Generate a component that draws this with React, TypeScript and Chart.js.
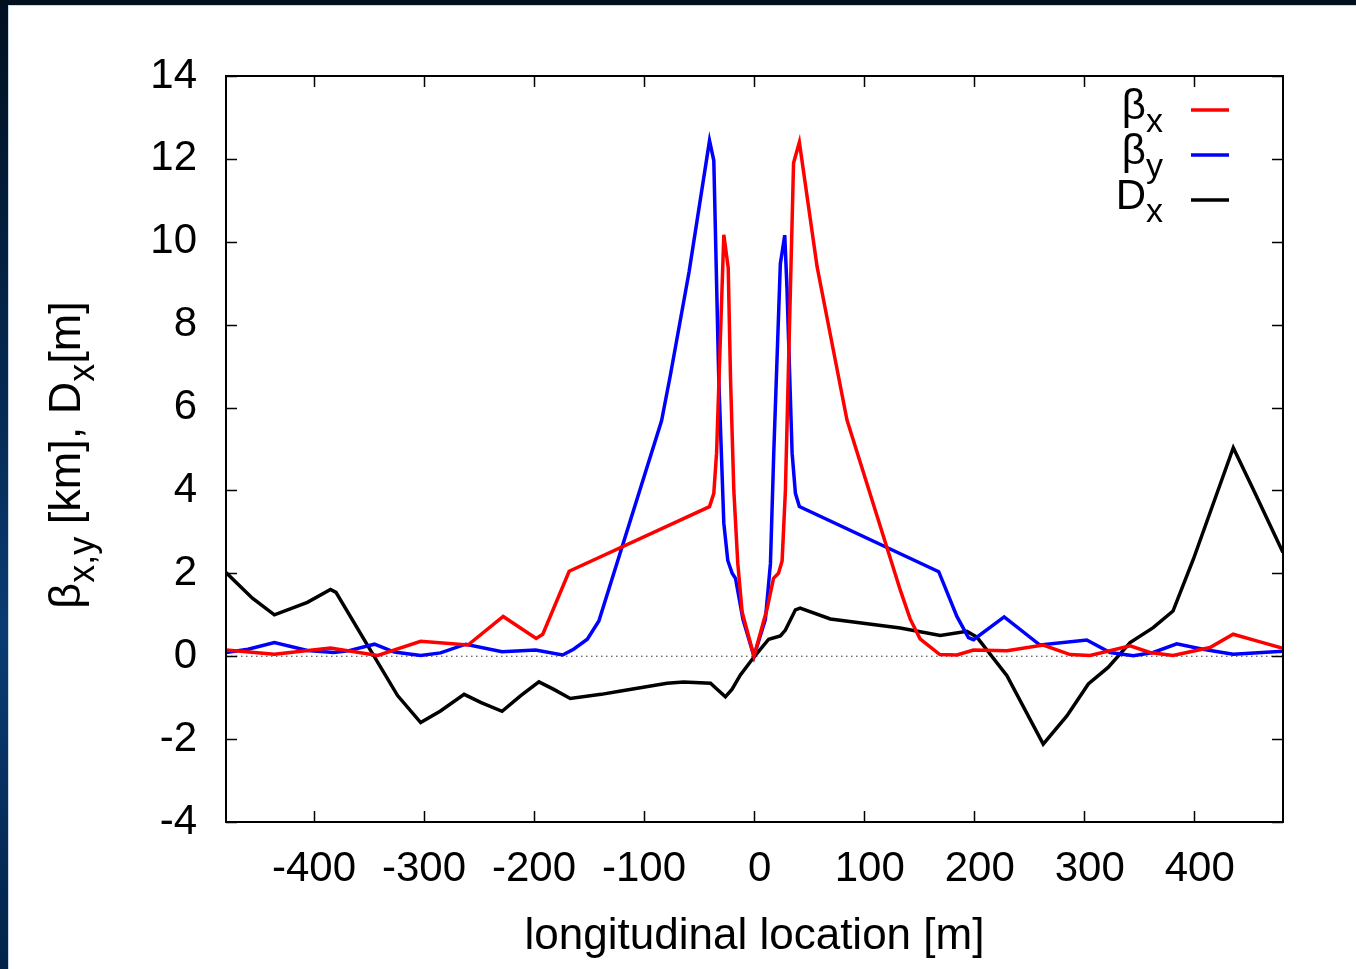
import React, { useEffect, useRef } from 'react';
import { Chart, registerables } from 'chart.js';

Chart.register(...registerables);

// ---- data (longitudinal location [m] / value) ----
const betaXPos = [-480, -436, -385, -342, -303, -260, -228, -198, -192, -168, -40.4, -36.5, -34, -27.4, -23.4, -21.3, -18.3, -14.7, -10.7, 0, 12, 17.8, 22.3, 25.6, 28.6, 36, 41.3, 57.4, 69.5, 84.6, 133, 142, 151, 169, 184.6, 199.6, 230, 263, 287.5, 305.6, 342, 360, 381, 414.6, 435.7, 457, 481];
const betaXVal = [0.15, 0.05, 0.2, 0.02, 0.36, 0.27, 0.96, 0.43, 0.53, 2.05, 3.61, 3.93, 4.9, 10.17, 9.37, 6.7, 4.0, 2.24, 1.06, 0, 1.15, 1.88, 2.0, 2.3, 4.0, 11.9, 12.4, 9.4, 7.75, 5.7, 1.6, 0.9, 0.42, 0.04, 0.03, 0.15, 0.13, 0.27, 0.04, 0.02, 0.25, 0.09, 0.02, 0.21, 0.53, 0.37, 0.19];

const betaYPos = [-480, -460, -436, -406, -382, -369, -345, -327, -303, -285, -262, -229, -198.5, -174, -164, -151.5, -141, -84, -76, -59, -40.4, -36.5, -32, -27.4, -23.8, -19.8, -16.8, -10, 0, 10.4, 15, 18, 24, 28, 30, 34.7, 37.7, 41.3, 168, 184.5, 195, 199.6, 227.5, 260, 302.6, 323.8, 345, 363, 384.4, 408, 435.7, 481];
const betaYVal = [0.09, 0.17, 0.33, 0.14, 0.09, 0.13, 0.29, 0.1, 0.02, 0.08, 0.29, 0.11, 0.15, 0.03, 0.17, 0.41, 0.85, 5.68, 6.78, 9.27, 12.44, 11.96, 6.7, 3.21, 2.31, 2.0, 1.88, 0.89, 0, 0.89, 2.24, 4.9, 9.47, 10.16, 8.9, 4.9, 3.93, 3.61, 2.04, 0.96, 0.45, 0.4, 0.95, 0.27, 0.39, 0.09, 0.01, 0.09, 0.3, 0.17, 0.05, 0.12];

const dispXPos = [-480, -456, -436, -406, -385, -380, -351, -324, -303, -285, -263.5, -248, -229, -212, -195.5, -182, -167, -139, -121, -79, -64, -39.5, -35, -26, -20, -12.3, 0, 13.4, 24, 28.6, 37.7, 42, 69.5, 133, 169.4, 193.6, 202.7, 230, 263, 284.5, 304, 322, 342, 363, 381, 399.5, 435.8, 454, 481];
const dispXVal = [2.02, 1.4, 1.0, 1.3, 1.61, 1.54, 0.25, -0.95, -1.6, -1.32, -0.92, -1.12, -1.33, -0.95, -0.62, -0.8, -1.02, -0.92, -0.84, -0.65, -0.62, -0.65, -0.76, -0.98, -0.8, -0.45, -0.02, 0.41, 0.49, 0.63, 1.12, 1.16, 0.9, 0.68, 0.5, 0.6, 0.46, -0.47, -2.12, -1.44, -0.67, -0.27, 0.33, 0.69, 1.09, 2.34, 5.03, 4.02, 2.5];

const xTickValues = [-400, -300, -200, -100, 0, 100, 200, 300, 400];
const yTickValues = [-4, -2, 0, 2, 4, 6, 8, 10, 12, 14];

const legendMain = ['β', 'β', 'D'];
const legendSub = ['x', 'y', 'x'];
const seriesColors = ['#ff0000', '#0000ff', '#000000'];

const xTitle = 'longitudinal location [m]';
const yTitleParts: [string, boolean][] = [
  ['β', false],
  ['x,y', true],
  [' [km], D', false],
  ['x', true],
  ['[m]', false],
];

const FONT = '"Liberation Sans", Arial, Helvetica, sans-serif';

const toPoints = (xs: number[], ys: number[]) => xs.map((x, i) => ({ x, y: ys[i] }));

const decorPlugin = {
  id: 'decor',
  beforeDatasetsDraw(chart: any) {
    const { ctx, chartArea, scales } = chart;
    const y0 = scales.y.getPixelForValue(0);
    ctx.save();
    ctx.strokeStyle = '#333';
    ctx.lineWidth = 1;
    ctx.setLineDash([1.5, 3.5]);
    ctx.beginPath();
    ctx.moveTo(chartArea.left, y0);
    ctx.lineTo(chartArea.right, y0);
    ctx.stroke();
    ctx.restore();
  },
  afterDraw(chart: any) {
    const { ctx, chartArea, scales } = chart;
    const { left, right, top, bottom } = chartArea;
    ctx.save();
    // inward ticks on all sides
    ctx.strokeStyle = '#000';
    ctx.lineWidth = 1.5;
    const tl = 11;
    ctx.beginPath();
    xTickValues.forEach((v) => {
      const px = Math.round(scales.x.getPixelForValue(v)) + 0.5;
      ctx.moveTo(px, bottom);
      ctx.lineTo(px, bottom - tl);
      ctx.moveTo(px, top);
      ctx.lineTo(px, top + tl);
    });
    yTickValues.forEach((v) => {
      const py = Math.round(scales.y.getPixelForValue(v)) + 0.5;
      ctx.moveTo(left, py);
      ctx.lineTo(left + tl, py);
      ctx.moveTo(right, py);
      ctx.lineTo(right - tl, py);
    });
    ctx.stroke();
    // frame
    ctx.lineWidth = 2;
    ctx.strokeRect(left, top, right - left, bottom - top);

    // legend
    const textRight = 1154;
    legendMain.forEach((m, i) => {
      const base = 113 + i * 45;
      ctx.fillStyle = '#000';
      ctx.textBaseline = 'alphabetic';
      ctx.textAlign = 'left';
      ctx.font = `34px ${FONT}`;
      const sw = ctx.measureText(legendSub[i]).width;
      ctx.fillText(legendSub[i], textRight - sw, base + 13);
      ctx.font = `42px ${FONT}`;
      const mw = ctx.measureText(m).width;
      ctx.fillText(m, textRight - sw - mw, base);
      ctx.strokeStyle = seriesColors[i];
      ctx.lineWidth = 3.5;
      ctx.beginPath();
      ctx.moveTo(1182, base - 9);
      ctx.lineTo(1220, base - 9);
      ctx.stroke();
    });

    // y title with subscripts (rotated)
    ctx.translate(71, (top + bottom) / 2 + 6);
    ctx.rotate(-Math.PI / 2);
    ctx.fillStyle = '#000';
    ctx.textBaseline = 'alphabetic';
    ctx.textAlign = 'left';
    const widths = yTitleParts.map(([t, sub]) => {
      ctx.font = `${sub ? 36 : 45}px ${FONT}`;
      return ctx.measureText(t).width;
    });
    const total = widths.reduce((a, b) => a + b, 0);
    let cx = -total / 2;
    yTitleParts.forEach(([t, sub], i) => {
      ctx.font = `${sub ? 36 : 45}px ${FONT}`;
      ctx.fillText(t, cx, sub ? 14 : 0);
      cx += widths[i];
    });
    ctx.restore();
  },
};

export default function App() {
  const canvasRef = useRef<HTMLCanvasElement | null>(null);

  useEffect(() => {
    const canvas = canvasRef.current;
    if (!canvas) return;
    const chart = new Chart(canvas, {
      type: 'line',
      data: {
        datasets: [
          { label: 'βx', data: toPoints(betaXPos, betaXVal), borderColor: seriesColors[0], borderWidth: 3.5, pointRadius: 0, tension: 0, fill: false },
          { label: 'βy', data: toPoints(betaYPos, betaYVal), borderColor: seriesColors[1], borderWidth: 3.5, pointRadius: 0, tension: 0, fill: false },
          { label: 'Dx', data: toPoints(dispXPos, dispXVal), borderColor: seriesColors[2], borderWidth: 3.5, pointRadius: 0, tension: 0, fill: false },
        ],
      },
      options: {
        responsive: false,
        animation: false,
        devicePixelRatio: 1,
        layout: { padding: { left: 0, top: 70, right: 73, bottom: 0 } },
        plugins: { legend: { display: false }, tooltip: { enabled: false } },
        scales: {
          x: {
            type: 'linear',
            min: -480,
            max: 481,
            grid: { display: false, drawTicks: false },
            border: { display: false },
            afterBuildTicks: (scale: any) => {
              scale.ticks = xTickValues.map((v) => ({ value: v }));
            },
            afterFit: (scale: any) => {
              scale.height = 147;
            },
            ticks: {
              color: '#000',
              font: { family: FONT, size: 42 },
              padding: 22,
              maxRotation: 0,
              autoSkip: false,
              callback: (v: any) => (Number(v) >= 0 ? ' ' + String(v) : String(v)),
            },
            title: {
              display: true,
              text: xTitle,
              color: '#000',
              font: { family: FONT, size: 44 },
              padding: { top: 0, bottom: 6 },
            },
          },
          y: {
            type: 'linear',
            min: -4,
            max: 14,
            grid: { display: false, drawTicks: false },
            border: { display: false },
            afterBuildTicks: (scale: any) => {
              scale.ticks = yTickValues.map((v) => ({ value: v }));
            },
            afterFit: (scale: any) => {
              scale.width = 217;
            },
            ticks: {
              color: '#000',
              font: { family: FONT, size: 42 },
              padding: 29,
              autoSkip: false,
              callback: (v: any) => String(v),
            },
          },
        },
      },
      plugins: [decorPlugin],
    });
    return () => chart.destroy();
  }, []);

  return (
    <div
      style={{
        position: 'fixed',
        left: 0,
        top: 0,
        width: 1356,
        height: 969,
        overflow: 'hidden',
        background: 'linear-gradient(180deg, #01101f 0%, #062c57 45%, #0a3c72 65%, #03234a 100%)',
      }}
    >
      <div style={{ position: 'absolute', left: 8, top: 5, width: 1348, height: 964, background: '#c9d6e6' }} />
      <div style={{ position: 'absolute', left: 9, top: 6, width: 1347, height: 963, background: '#ffffff' }}>
        <canvas ref={canvasRef} width={1347} height={963} style={{ display: 'block' }} />
      </div>
    </div>
  );
}
